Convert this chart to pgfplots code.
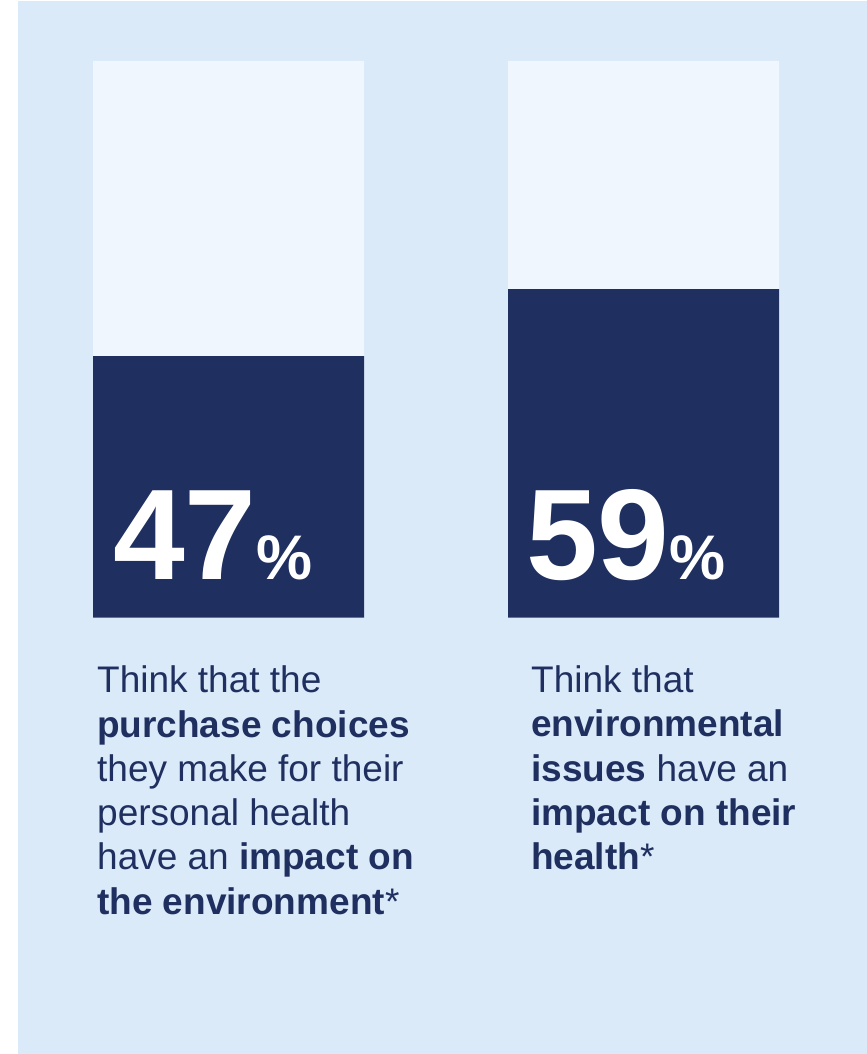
\documentclass[border=0pt]{standalone}
\usepackage{pgfplots}
\pgfplotsset{compat=1.18}
\usepackage{fontspec}
\setmainfont{Liberation Sans}
\definecolor{panel}{HTML}{DAEAF9}
\definecolor{barbg}{HTML}{F0F6FE}
\definecolor{navy}{HTML}{1F2F5F}
\begin{document}
\begin{tikzpicture}[x=1bp,y=1bp]
\useasboundingbox (0,0) rectangle (867,1054);
\fill[white] (0,0) rectangle (867,1054);
\fill[panel] (18,0) rectangle (867,1053);
\begin{axis}[
  at={(93bp,436.3bp)}, anchor=south west,
  scale only axis, width=686bp, height=556.7bp,
  hide axis, clip=false,
  xmin=-0.3265, xmax=1.3265, ymin=0, ymax=100,
]
\addplot[ybar, bar width=271bp, bar shift=0pt, fill=barbg, draw=none] coordinates {(0,100) (1,100)};
\addplot[ybar, bar width=271bp, bar shift=0pt, fill=navy, draw=none] coordinates {(0,47) (1,59)};
\end{axis}
\node[anchor=base west, inner sep=0, text=white, font=\fontsize{129bp}{129bp}\selectfont\bfseries] at (113,474) {47{\fontsize{63bp}{63bp}\selectfont\%}};
\node[anchor=base west, inner sep=0, text=white, font=\fontsize{129bp}{129bp}\selectfont\bfseries] at (526,474) {59{\fontsize{63bp}{63bp}\selectfont\%}};
\begin{scope}[every node/.style={anchor=base west, inner sep=0, text=navy, font=\fontsize{37bp}{44bp}\selectfont}]
\node at (97,361) {Think that the};
\node at (97,316.5) {\textbf{purchase choices}};
\node at (97,272) {they make for their};
\node at (97,228) {personal health};
\node at (97,184) {have an \textbf{impact on}};
\node at (97,139) {\textbf{the environment}*};
\node at (531,361) {Think that};
\node at (531,317) {\textbf{environmental}};
\node at (531,272) {\textbf{issues} have an};
\node at (531,228) {\textbf{impact on their}};
\node at (531,184) {\textbf{health}*};
\end{scope}
\end{tikzpicture}
\end{document}
